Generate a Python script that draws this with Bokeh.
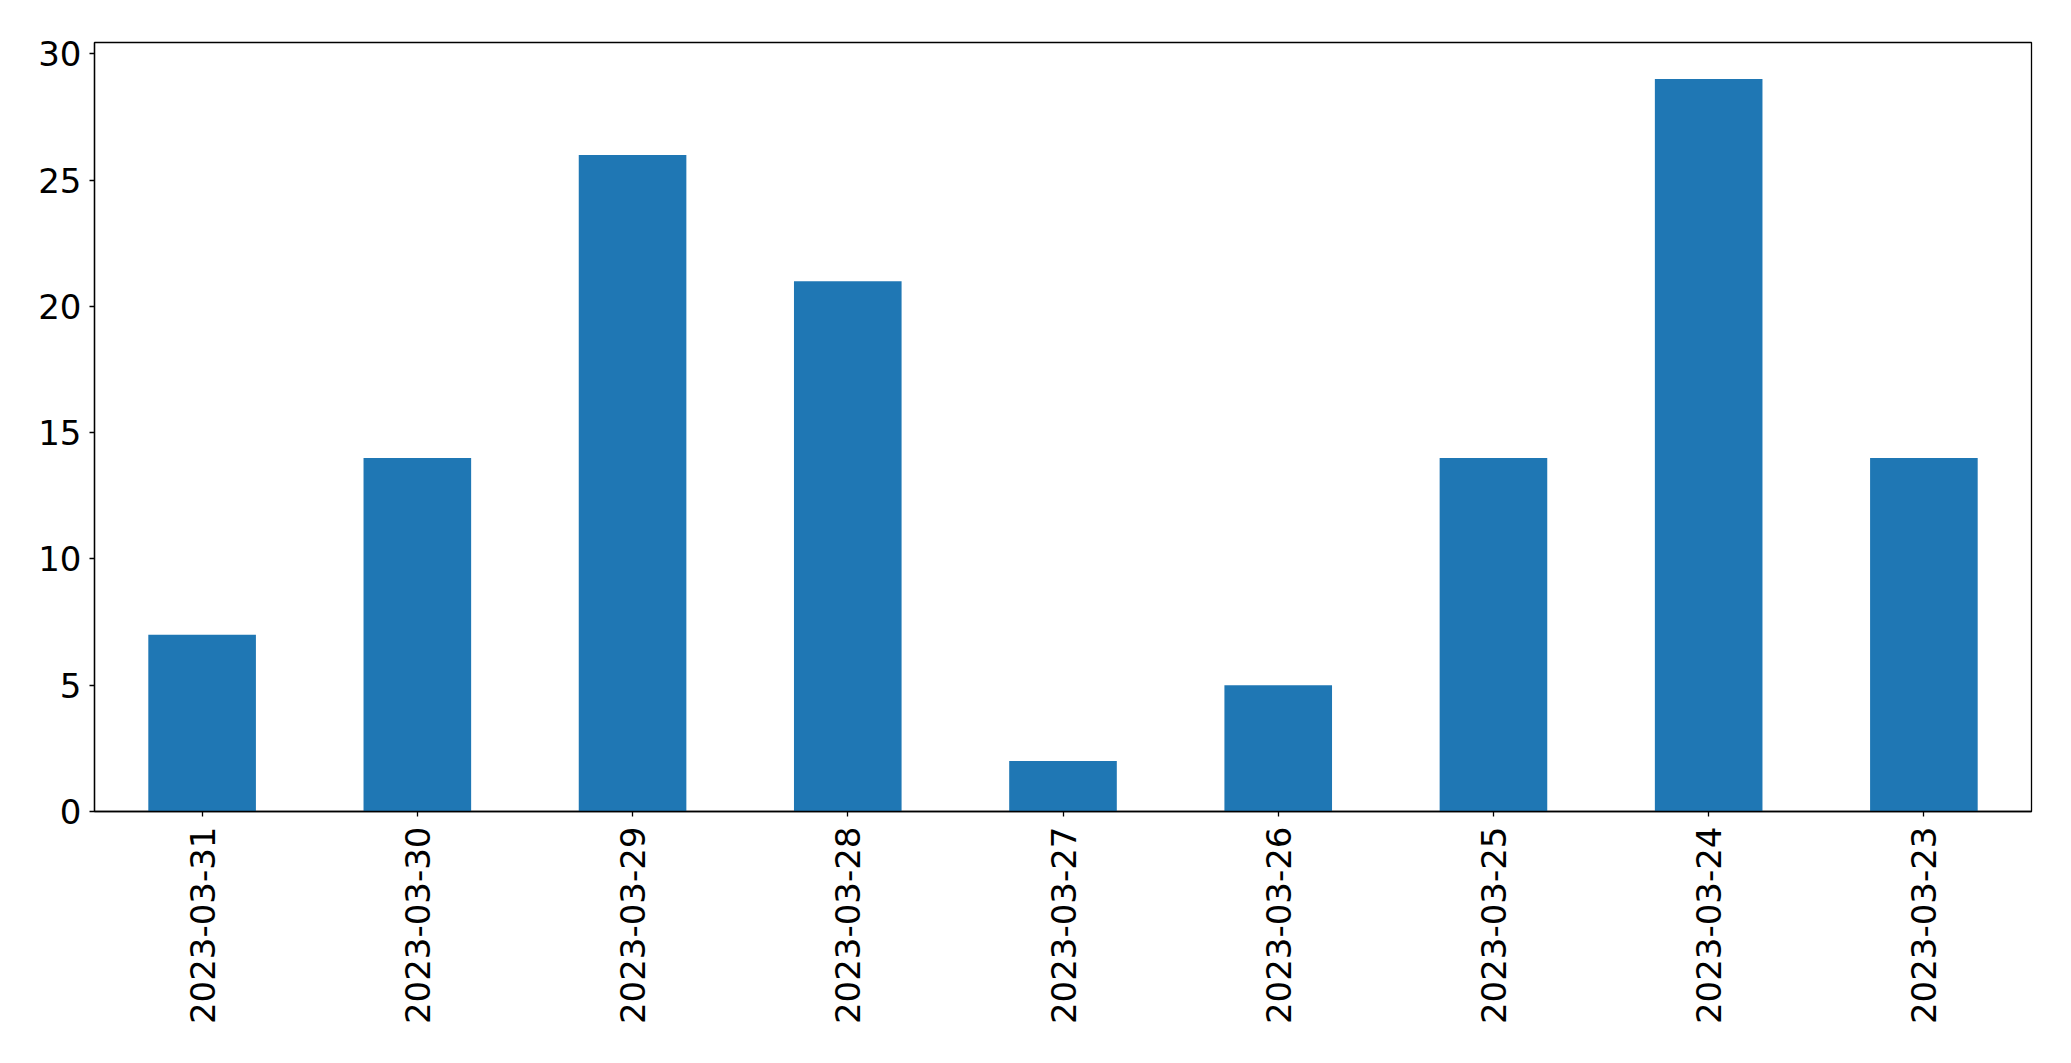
from bokeh.plotting import figure
from bokeh.models import FactorRange, Range1d, FixedTicker
from bokeh.embed import file_html
from bokeh.resources import INLINE
import math

dates = ["2023-03-31", "2023-03-30", "2023-03-29", "2023-03-28", "2023-03-27",
         "2023-03-26", "2023-03-25", "2023-03-24", "2023-03-23"]
counts = [7, 14, 26, 21, 2, 5, 14, 29, 14]
y_ticks = [0, 5, 10, 15, 20, 25, 30]

W, H = 2055, 1040
p = figure(width=W, height=H, output_backend="svg", toolbar_location=None,
           x_range=FactorRange(factors=dates, range_padding=0),
           y_range=Range1d(0, max(counts) * 1.05),
           min_border_left=94, min_border_top=42, min_border_right=24,
           min_border_bottom=H - 811)

p.vbar(x=dates, top=counts, width=0.5, color="#1f77b4", line_color=None)

p.xgrid.visible = False
p.ygrid.visible = False
p.outline_line_color = "black"
p.outline_line_width = 1.3
p.outline_line_alpha = 1

for ax in (p.xaxis[0], p.yaxis[0]):
    ax.axis_line_color = "black"
    ax.axis_line_width = 1.3
    ax.major_tick_line_color = "black"
    ax.major_tick_line_width = 1.3
    ax.major_tick_out = 5
    ax.major_tick_in = 0
    ax.minor_tick_line_color = None
    ax.major_label_text_font = "DejaVu Sans"
    ax.major_label_text_font_size = "34px"
    ax.major_label_text_color = "black"

p.yaxis[0].ticker = FixedTicker(ticks=y_ticks)
p.yaxis[0].major_label_standoff = 8
p.xaxis[0].major_label_orientation = math.pi / 2
p.xaxis[0].major_label_standoff = 10
p.xaxis[0].group_text_font_size = "0px"

open("out.html", "w").write(file_html(p, INLINE))
